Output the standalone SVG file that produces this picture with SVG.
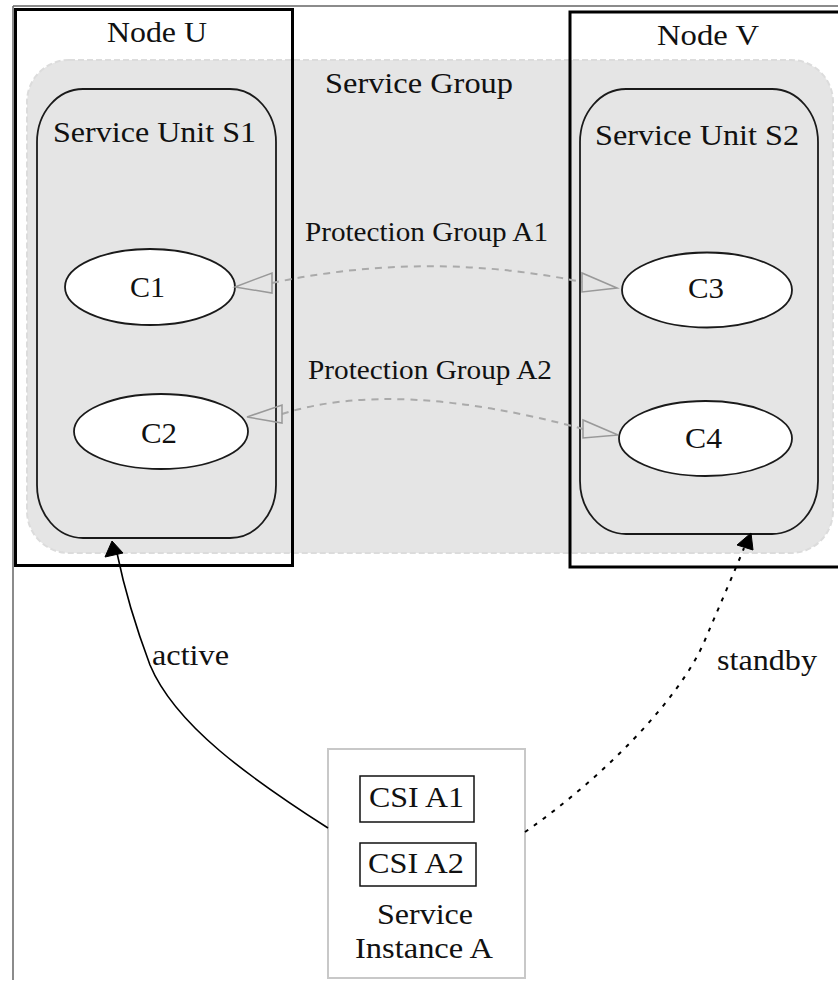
<svg xmlns="http://www.w3.org/2000/svg" width="838" height="981" viewBox="0 0 838 981">
<style>
text{font-family:"Liberation Serif","Times New Roman",serif;fill:#111;}
.big{font-size:30px;}
.mid{font-size:28px;}
.frame{stroke:#666;stroke-width:1.5;fill:none;}
.node{fill:none;stroke:#000;stroke-width:3;}
.unit{fill:none;stroke:#1a1a1a;stroke-width:1.8;}
.comp{fill:#fff;stroke:#1a1a1a;stroke-width:1.8;}
.csi{fill:#fff;stroke:#111;stroke-width:1.5;}
.prot{fill:none;stroke:#aaa;stroke-width:2;stroke-dasharray:7,6;}
.openarrow{fill:none;stroke:#999;stroke-width:1.5;}
.solid{fill:none;stroke:#000;stroke-width:1.6;}
.dotted{fill:none;stroke:#000;stroke-width:2;stroke-dasharray:4,7;}
.head{fill:#000;stroke:#000;stroke-width:1;}
</style>
<rect width="838" height="981" fill="#fff"/>
<g id="frame">
<path class="frame" d="M13,6 H838 M13,6 V980"/>
</g>
<g id="service-group">
<rect x="27" y="60" width="806" height="493" rx="42" ry="42" fill="#e5e5e5" stroke="#dcdcdc" stroke-width="2" stroke-dasharray="6,3"/>
<text class="big" x="325" y="93" textLength="188" lengthAdjust="spacingAndGlyphs">Service Group</text>
</g>
<g id="node-u">
<rect class="node" x="15.5" y="9.5" width="277" height="556"/>
<text class="big" x="107" y="42" textLength="100" lengthAdjust="spacingAndGlyphs">Node U</text>
</g>
<g id="node-v">
<rect class="node" x="570" y="12" width="300" height="555"/>
<text class="big" x="657" y="45" textLength="102" lengthAdjust="spacingAndGlyphs">Node V</text>
</g>
<g id="service-unit-s1">
<rect class="unit" x="37" y="89" width="239" height="449" rx="46" ry="53"/>
<text class="big" x="53" y="142" textLength="203" lengthAdjust="spacingAndGlyphs">Service Unit S1</text>
</g>
<g id="service-unit-s2">
<rect class="unit" x="580" y="89" width="238" height="445" rx="46" ry="53"/>
<text class="big" x="595" y="145" textLength="204" lengthAdjust="spacingAndGlyphs">Service Unit S2</text>
</g>
<g id="c1">
<ellipse class="comp" cx="150" cy="287" rx="85" ry="38"/>
<text class="big" x="130" y="297" textLength="35" lengthAdjust="spacingAndGlyphs">C1</text>
</g>
<g id="c2">
<ellipse class="comp" cx="161" cy="431.5" rx="87" ry="37.5"/>
<text class="big" x="141" y="443" textLength="36" lengthAdjust="spacingAndGlyphs">C2</text>
</g>
<g id="c3">
<ellipse class="comp" cx="707" cy="290" rx="85" ry="37.5"/>
<text class="big" x="688" y="298" textLength="36" lengthAdjust="spacingAndGlyphs">C3</text>
</g>
<g id="c4">
<ellipse class="comp" cx="705.5" cy="438.5" rx="86.5" ry="37.5"/>
<text class="big" x="685" y="448" textLength="37" lengthAdjust="spacingAndGlyphs">C4</text>
</g>
<g id="service-instance-a">
<rect x="328" y="749" width="197" height="229" fill="#fff" stroke="#c8c8c8" stroke-width="2"/>
<rect class="csi" x="360" y="776" width="114" height="46"/>
<text class="big" x="369" y="807" textLength="95" lengthAdjust="spacingAndGlyphs">CSI A1</text>
<rect class="csi" x="360" y="843" width="116" height="43"/>
<text class="big" x="368" y="873" textLength="96" lengthAdjust="spacingAndGlyphs">CSI A2</text>
<text class="big" x="377" y="924" textLength="96" lengthAdjust="spacingAndGlyphs">Service</text>
<text class="big" x="355" y="958" textLength="138" lengthAdjust="spacingAndGlyphs">Instance A</text>
</g>
<g id="connectors">
<path class="prot" d="M272,283 Q427,250 582,282"/>
<polygon class="openarrow" points="235,287 272,273 272,293"/>
<polygon class="openarrow" points="617,288 582,273 582,292"/>
<text class="mid" x="305" y="241" textLength="243" lengthAdjust="spacingAndGlyphs">Protection Group A1</text>
<path class="prot" d="M282,414 Q395,378 583,429"/>
<polygon class="openarrow" points="247,417 282,405 282,423"/>
<polygon class="openarrow" points="618,435 583,420 583,438"/>
<text class="mid" x="308" y="379" textLength="244" lengthAdjust="spacingAndGlyphs">Protection Group A2</text>
<path class="solid" d="M328,828 C250,778 175,725 150,665 C135,625 125,592 117,553"/>
<polygon class="head" points="112,541 105,557 123,553"/>
<text class="big" x="152" y="665" textLength="77" lengthAdjust="spacingAndGlyphs">active</text>
<path class="dotted" d="M525,832 C600,780 680,700 705,640 C722,600 733,575 744,548"/>
<polygon class="head" points="751,533 737,545 753,550"/>
<text class="big" x="717" y="670" textLength="100" lengthAdjust="spacingAndGlyphs">standby</text>
</g>
</svg>
